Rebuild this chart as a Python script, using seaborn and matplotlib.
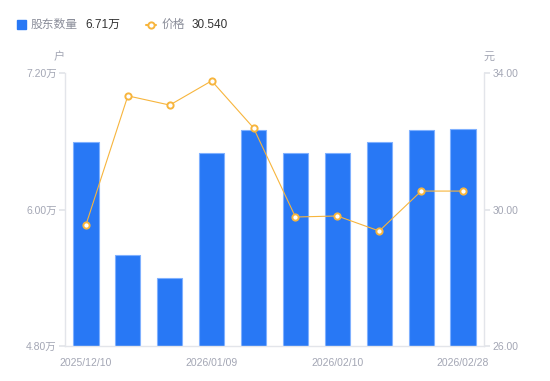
import matplotlib
matplotlib.use("Agg")
import matplotlib.pyplot as plt
import seaborn as sns
import numpy as np
import pandas as pd
from matplotlib.lines import Line2D
from matplotlib.patches import Rectangle

dates = ["2025/12/10", "2025/12/20", "2025/12/31", "2026/01/09", "2026/01/20",
         "2026/01/31", "2026/02/10", "2026/02/13", "2026/02/20", "2026/02/28"]
holders = [6.59, 5.60, 5.40, 6.50, 6.70, 6.50, 6.50, 6.59, 6.70, 6.71]  # 万户
price = [29.55, 33.33, 33.06, 33.77, 32.39, 29.78, 29.81, 29.37, 30.54, 30.54]
shown_ticks = ["2025/12/10", "2026/01/09", "2026/02/10", "2026/02/28"]
left_ticks = [4.80, 6.00, 7.20]
right_ticks = [26.00, 30.00, 34.00]

sns.set_theme(style="white")
plt.rcParams['font.family'] = ['Liberation Sans', 'Noto Sans CJK SC', 'DejaVu Sans']

BLUE = "#2878f5"
ORANGE = "#f7b53d"
GRAY = "#a3a6b4"
SPINE = "#e3e5ea"

df = pd.DataFrame({"date": dates, "holders": holders, "price": price})

fig = plt.figure(figsize=(5.5, 3.81), dpi=100)
ax = fig.add_axes([65/550, 1-346/381, (484-65)/550, (346-73)/381])

sns.barplot(data=df, x="date", y="holders", color=BLUE, width=0.6, ax=ax,
            saturation=1, edgecolor="#7fb0ff", linewidth=0.8)
ax.set_ylim(4.80, 7.20)
ax.set_xlim(-0.5, 9.5)
ax.set_yticks(left_ticks)
ax.set_yticklabels([f"{v:.2f}万" for v in left_ticks])
idx = [dates.index(d) for d in shown_ticks]
ax.set_xticks(idx)
ax.set_xticklabels(shown_ticks)
ax.set_xlabel("")
ax.set_ylabel("")

ax2 = ax.twinx()
sns.lineplot(x=np.arange(len(price)), y=price, ax=ax2, color=ORANGE, linewidth=0.8,
             marker="o", markersize=4.5, markerfacecolor="white",
             markeredgecolor=ORANGE, markeredgewidth=1.4)
ax2.set_ylim(26, 34)
ax2.set_yticks(right_ticks)
ax2.set_yticklabels([f"{v:.2f}" for v in right_ticks])
ax2.set_ylabel("")

for a in (ax, ax2):
    for s in a.spines.values():
        s.set_visible(False)
ax.spines['left'].set_visible(True)
ax.spines['bottom'].set_visible(True)
ax2.spines['right'].set_visible(True)
for s in (ax.spines['left'], ax.spines['bottom'], ax2.spines['right']):
    s.set_color(SPINE)
    s.set_linewidth(1)

ax.tick_params(axis='y', left=True, length=4, color=SPINE, labelsize=7.5, labelcolor=GRAY, pad=2)
ax.tick_params(axis='x', bottom=False, labelsize=7.5, labelcolor=GRAY, pad=3)
ax2.tick_params(axis='y', right=True, length=4, color=SPINE, labelsize=7.5, labelcolor=GRAY, pad=2)

# unit labels
fig.text(59/550, 1-57/381, "户", fontsize=8, color=GRAY, ha="center", va="center")
fig.text(489/550, 1-57/381, "元", fontsize=8, color=GRAY, ha="center", va="center")

# legend
fig.patches.append(Rectangle((17/550, 1-29/381), 9/550, 9/381, transform=fig.transFigure,
                             color=BLUE, figure=fig))
fig.text(31/550, 1-24.5/381, "股东数量", fontsize=8.5, color="#8a8d99", ha="left", va="center")
fig.text(85/550, 1-24.5/381, f"{holders[-1]:.2f}万", fontsize=8.5, color="#333333", ha="left", va="center")
fig.lines.append(Line2D([146/550, 156/550], [1-24.5/381, 1-24.5/381], transform=fig.transFigure,
                        color=ORANGE, linewidth=1.5))
fig.lines.append(Line2D([151/550], [1-24.5/381], transform=fig.transFigure, color=ORANGE,
                        marker="o", markersize=4.5, markerfacecolor="white", markeredgewidth=1.4,
                        linestyle="none"))
fig.text(162/550, 1-24.5/381, "价格", fontsize=8.5, color="#8a8d99", ha="left", va="center")
fig.text(192/550, 1-24.5/381, f"{price[-1]:.3f}", fontsize=8.5, color="#333333", ha="left", va="center")

fig.savefig("out.png", dpi=100)
